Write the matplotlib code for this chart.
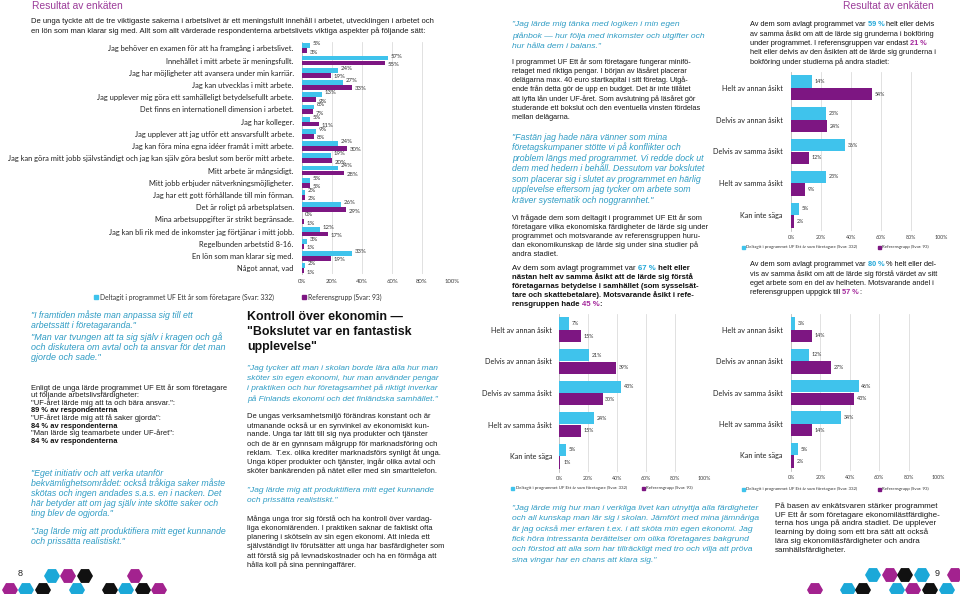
import matplotlib
matplotlib.use("Agg")
import matplotlib.pyplot as plt
from matplotlib.patches import RegularPolygon, Rectangle
import numpy as np

TEXT_FONT = "Liberation Sans"
CHART_FONT = "Lato"
TEAL = "#2f9cc4"
TEAL_NUM = "#1fa6d8"
PURPLE_NUM = "#a3279b"
HEAD = "#9b3c99"
CYAN_BAR = "#3fc3ec"
PURPLE_BAR = "#7d1682"
HEX_CYAN = "#1ba8d8"
HEX_PURPLE = "#a3228f"
HEX_BLACK = "#111111"

# --- data: main chart (important aspects of working life) ---
main_labels = [
    "Jag behöver en examen för att ha framgång i arbetslivet.",
    "Innehållet i mitt arbete är meningsfullt.",
    "Jag har möjligheter att avansera under min karriär.",
    "Jag kan utvecklas i mitt arbete.",
    "Jag upplever mig göra ett samhälleligt betydelsefullt arbete.",
    "Det finns en internationell dimension i arbetet.",
    "Jag har kolleger.",
    "Jag upplever att jag utför ett ansvarsfullt arbete.",
    "Jag kan föra mina egna idéer framåt i mitt arbete.",
    "Jag kan göra mitt jobb självständigt och jag kan själv göra beslut som berör mitt arbete.",
    "Mitt arbete är mångsidigt.",
    "Mitt jobb erbjuder nätverkningsmöjligheter.",
    "Jag har ett gott förhållande till min förman.",
    "Det är roligt på arbetsplatsen.",
    "Mina arbetsuppgifter är strikt begränsade.",
    "Jag kan bli rik med de inkomster jag förtjänar i mitt jobb.",
    "Regelbunden arbetstid 8-16.",
    "En lön som man klarar sig med.",
    "Något annat, vad",
]
main_uf = [5, 57, 24, 27, 13, 8, 5, 9, 24, 19, 24, 5, 2, 26, 0, 12, 3, 33, 2]
main_ref = [3, 55, 19, 33, 9, 7, 11, 8, 30, 20, 28, 5, 2, 29, 1, 17, 1, 19, 1]

# --- data: the three small opinion charts ---
opinion_labels = ["Helt av annan åsikt", "Delvis av annan åsikt", "Delvis av samma åsikt",
                  "Helt av samma åsikt", "Kan inte säga"]
bok_uf = [14, 23, 36, 23, 5]
bok_ref = [54, 24, 12, 9, 2]
ftg_uf = [7, 21, 43, 24, 5]
ftg_ref = [15, 39, 30, 15, 1]
arb_uf = [3, 12, 46, 34, 5]
arb_ref = [14, 27, 43, 14, 2]

ticks = [0, 20, 40, 60, 80, 100]
tick_labels = ["0%", "20%", "40%", "60%", "80%", "100%"]
legend_uf = "Deltagit i programmet UF Ett år som företagare (Svar: 332)"
legend_ref = "Referensgrupp (Svar: 93)"

W, H = 960, 594
fig = plt.figure(figsize=(W / 100, H / 100), dpi=100)
bg = fig.add_axes([0, 0, 1, 1])
bg.set_xlim(0, W)
bg.set_ylim(H, 0)
bg.axis("off")
renderer = fig.canvas.get_renderer()


def text_width(s, size, weight="normal", style="normal", family=TEXT_FONT):
    a = bg.text(0, 0, s + "|", fontsize=size, weight=weight, style=style, family=family)
    b = bg.text(0, 0, "|", fontsize=size, weight=weight, style=style, family=family)
    w = a.get_window_extent(renderer).width - b.get_window_extent(renderer).width
    a.remove()
    b.remove()
    return w


def rich_line(x, y, parts, size, style="normal"):
    for txt, color, weight in parts:
        bg.text(x, y, txt, fontsize=size, color=color, weight=weight, style=style,
                family=TEXT_FONT, va="center", ha="left")
        x += text_width(txt, size, weight, style)


def para(x, y0, step, lines, size, color="#1a1a1a", style="normal", weight="normal"):
    for i, line in enumerate(lines):
        if isinstance(line, list):
            rich_line(x, y0 + i * step, line, size, style)
        else:
            bg.text(x, y0 + i * step, line, fontsize=size, color=color, style=style,
                    weight=weight, family=TEXT_FONT, va="center", ha="left")


def bar_chart(x0, x1, y_top, y_bot, labels, uf, ref, label_size, val_size, tick_size,
              label_pad, val_dy):
    ax = fig.add_axes([x0 / W, 1 - y_bot / H, (x1 - x0) / W, (y_bot - y_top) / H])
    n = len(labels)
    pos = np.arange(n)
    ax.barh(pos - 0.2, uf, height=0.39, color=CYAN_BAR, zorder=3)
    ax.barh(pos + 0.2, ref, height=0.39, color=PURPLE_BAR, zorder=3)
    ax.set_xlim(0, 100)
    ax.set_ylim(n - 0.5, -0.5)
    ax.set_yticks(pos)
    ax.set_yticklabels(labels, fontsize=label_size, family=CHART_FONT, color="#222222")
    ax.set_xticks(ticks)
    ax.set_xticklabels(tick_labels, fontsize=tick_size, family=CHART_FONT, color="#404040")
    ax.tick_params(axis="y", length=0, pad=label_pad)
    ax.tick_params(axis="x", length=0, pad=3)
    ax.xaxis.grid(True, color="#dcdcdc", lw=0.6)
    ax.set_axisbelow(True)
    for s in ["top", "right", "bottom"]:
        ax.spines[s].set_visible(False)
    ax.spines["left"].set_color("#bfbfbf")
    ax.spines["left"].set_linewidth(0.6)
    ax.patch.set_alpha(0)
    for i in range(n):
        ax.annotate(f"{uf[i]}%", (uf[i], i - 0.2), xytext=(2, val_dy[0]),
                    textcoords="offset points", fontsize=val_size, family=CHART_FONT,
                    color="#333333", va="center", ha="left")
        ax.annotate(f"{ref[i]}%", (ref[i], i + 0.2), xytext=(2, val_dy[1]),
                    textcoords="offset points", fontsize=val_size, family=CHART_FONT,
                    color="#333333", va="center", ha="left")
    return ax


def legend(x_uf, x_ref, y, size, sq):
    for xx, col, lab in [(x_uf, CYAN_BAR, legend_uf), (x_ref, PURPLE_BAR, legend_ref)]:
        bg.add_patch(Rectangle((xx, y - sq / 2), sq, sq, color=col))
        bg.text(xx + sq + 1.5, y, lab, fontsize=size, family=CHART_FONT, color="#333333",
                va="center", ha="left")


# headers
bg.text(32, 6, "Resultat av enkäten", fontsize=7.4, color=HEAD, family=TEXT_FONT, va="center")
bg.text(843, 6, "Resultat av enkäten", fontsize=7.4, color=HEAD, family=TEXT_FONT, va="center")

para(31, 21, 10.5, [
    "De unga tyckte att de tre viktigaste sakerna i arbetslivet är ett meningsfullt innehåll i arbetet, utvecklingen i arbetet och",
    "en lön som man klarar sig med. Allt som allt värderade respondenterna arbetslivets viktiga aspekter på följande sätt:",
], 5.5)

# main chart
bar_chart(302, 452, 42.2, 274.4, main_labels, main_uf, main_ref, 5.4, 4.3, 4.3, 6, (1.5, -1))
legend(94, 302, 297, 4.9, 4)

# left column texts
QS = 6.3
para(31, 315, 10.5, ['"I framtiden måste man anpassa sig till ett',
                     'arbetssätt i företagaranda."'], QS, TEAL, "italic")
para(31, 337, 10.5, ['"Man var tvungen att ta sig själv i kragen och gå',
                     'och diskutera om avtal och ta ansvar för det man',
                     'gjorde och sade."'], 6.5, TEAL, "italic")
B = "#111111"
para(31, 388, 7.6, [
    "Enligt de unga lärde programmet UF Ett år som företagare",
    "ut följande arbetslivsfärdigheter:",
    '"UF-året lärde mig att ta och bära ansvar.":',
    [("89 % av respondenterna", B, "bold")],
    '"UF-året lärde mig att få saker gjorda":',
    [("84 % av respondenterna", B, "bold")],
    '"Man lärde sig teamarbete under UF-året":',
    [("84 % av respondenterna", B, "bold")],
], 5.4)
para(31, 473, 10.2, ['"Eget initiativ och att verka utanför',
                     'bekvämlighetsområdet: också tråkiga saker måste',
                     'skötas och ingen andades s.a.s. en i nacken. Det',
                     'här betyder att om jag själv inte skötte saker och',
                     'ting blev de ogjorda."'], QS, TEAL, "italic")
para(31, 531, 10.2, ['"Jag lärde mig att produktifiera mitt eget kunnande',
                     'och prissätta realistiskt."'], QS, TEAL, "italic")

# middle column
para(247, 317, 15, ["Kontroll över ekonomin —", '"Bokslutet var en fantastisk', 'upplevelse"'],
     8.9, "#111111", weight="bold")
para(247, 368, 10.3, ['"Jag tycker att man i skolan borde lära alla hur man',
                      'sköter sin egen ekonomi, hur man använder pengar',
                      'i praktiken och hur företagsamhet på riktigt inverkar',
                      'på Finlands ekonomi och det finländska samhället."'], 6.05, TEAL, "italic")
para(247, 417, 9.0, [
    "De ungas verksamhetsmiljö förändras konstant och är",
    "utmanande också ur en synvinkel av ekonomiskt kun-",
    "nande. Unga tar lätt till sig nya produkter och tjänster",
    "och de är en gynnsam målgrupp för marknadsföring och",
    "reklam.  T.ex. olika krediter marknadsförs synligt åt unga.",
    "Unga köper produkter och tjänster, ingår olika avtal och",
    "sköter bankärenden på nätet eller med sin smarttelefon.",
], 5.5)
para(247, 490, 10.3, ['"Jag lärde mig att produktifiera mitt eget kunnande',
                      'och prissätta realistiskt."'], 6.05, TEAL, "italic")
para(247, 519, 9.2, [
    "Många unga tror sig förstå och ha kontroll över vardag-",
    "liga ekonomiärenden. I praktiken saknar de faktiskt ofta",
    "planering i skötseln av sin egen ekonomi. Att inleda ett",
    "självständigt liv förutsätter att unga har basfärdigheter som",
    "att förstå sig på levnadskostnader och ha en förmåga att",
    "hålla koll på sina penningaffärer.",
], 5.4)

# right-middle column
para(512, 25, 10.8, ['"Jag lärde mig tänka med logiken i min egen',
                     'plånbok — hur följa med inkomster och utgifter och',
                     'hur hålla dem i balans."'], 6.1, TEAL, "italic")
para(512, 62, 9.2, [
    "I programmet UF Ett år som företagare fungerar minifö-",
    "retaget med riktiga pengar. I början av läsåret placerar",
    "delägarna max. 40 euro startkapital i sitt företag. Utgå-",
    "ende från detta gör de upp en budget. Det är inte tillåtet",
    "att lyfta lån under UF-året. Som avslutning på läsåret gör",
    "studerande ett bokslut och den eventuella vinsten fördelas",
    "mellan delägarna.",
], 5.3)
para(512, 137, 10.6, ['"Fastän jag hade nära vänner som mina',
                      'företagskumpaner stötte vi på konflikter och',
                      'problem längs med programmet. Vi redde dock ut',
                      'dem med hedern i behåll. Dessutom var bokslutet',
                      'som placerar sig i slutet av programmet en härlig',
                      'upplevelse eftersom jag tycker om arbete som',
                      'kräver systematik och noggrannhet."'], 6.3, TEAL, "italic")
para(512, 218, 9.1, [
    "Vi frågade dem som deltagit i programmet UF Ett år som",
    "företagare vilka ekonomiska färdigheter de lärde sig under",
    "programmet och motsvarande av referensgruppen huru-",
    "dan ekonomikunskap de lärde sig under sina studier på",
    "andra stadiet.",
], 5.4)
para(512, 268, 9.0, [
    [("Av dem som avlagt programmet var ", B, "normal"), ("67 %", TEAL_NUM, "bold"),
     (" helt eller", B, "bold")],
    [("nästan helt av samma åsikt att de lärde sig förstå", B, "bold")],
    [("företagarnas betydelse i samhället (som sysselsät-", B, "bold")],
    [("tare och skattebetalare). Motsvarande åsikt i refe-", B, "bold")],
    [("rensgruppen hade ", B, "bold"), ("45 %", PURPLE_NUM, "bold"), (":", B, "bold")],
], 5.6)

# right column
para(750, 25, 9.2, [
    [("Av dem som avlagt programmet var ", B, "normal"), ("59 %", TEAL_NUM, "bold"),
     (" helt eller delvis", B, "normal")],
    "av samma åsikt om att de lärde sig grunderna i bokföring",
    [("under programmet. I referensgruppen var endast ", B, "normal"),
     ("21 %", PURPLE_NUM, "bold")],
    "helt eller delvis av den åsikten att de lärde sig grunderna i",
    "bokföring under studierna på andra stadiet:",
], 5.3)
para(750, 265, 9.2, [
    [("Av dem som avlagt programmet var ", B, "normal"), ("80 %", TEAL_NUM, "bold"),
     (" % helt eller del-", B, "normal")],
    "vis av samma åsikt om att de lärde sig förstå värdet av sitt",
    "eget arbete som en del av helheten. Motsvarande andel i",
    [("referensgruppen uppgick till ", B, "normal"), ("57 %", PURPLE_NUM, "bold"),
     (":", B, "normal")],
], 5.3)
para(775, 506, 8.8, [
    "På basen av enkätsvaren stärker programmet",
    "UF Ett år som företagare ekonomilästfärdighe-",
    "terna hos unga på andra stadiet. De upplever",
    "learning by doing som ett bra sätt att också",
    "lära sig ekonomiläsfärdigheter och andra",
    "samhällsfärdigheter.",
], 5.8)

# small charts
bar_chart(791, 941, 72, 231, opinion_labels, bok_uf, bok_ref, 5.2, 3.8, 3.8, 6, (0, 0))
legend(742, 878, 247, 3.2, 3)
bar_chart(559, 704, 314, 472, opinion_labels, ftg_uf, ftg_ref, 5.2, 3.8, 3.8, 5, (0, 0))
legend(511, 642, 488, 3.2, 3)
bar_chart(791, 938, 314, 471, opinion_labels, arb_uf, arb_ref, 5.2, 3.8, 3.8, 6, (0, 0))
legend(742, 878, 489, 3.2, 3)

# bottom quote
para(512, 508, 10.4, [
    '"Jag lärde mig hur man i verkliga livet kan utnyttja alla färdigheter',
    'och all kunskap man lär sig i skolan. Jämfört med mina jämnåriga',
    'är jag också mer erfaren t.ex. i att sköta min egen ekonomi. Jag',
    'fick höra intressanta berättelser om olika företagares bakgrund',
    'och förstod att alla som har tillräckligt med tro och vilja att pröva',
    'sina vingar har en chans att klara sig."',
], 6.1, TEAL, "italic")

# page numbers and hexagon decoration
bg.text(20, 574, "8", fontsize=6.5, family=TEXT_FONT, color="#222222", va="center", ha="center")
bg.text(937, 573, "9", fontsize=6.5, family=TEXT_FONT, color="#222222", va="center", ha="center")
hexes = [
    (52, 576, HEX_CYAN), (68, 576, HEX_PURPLE), (85, 576, HEX_BLACK), (135, 576, HEX_PURPLE),
    (10, 590, HEX_PURPLE), (26, 590, HEX_CYAN), (43, 590, HEX_BLACK), (77, 590, HEX_CYAN),
    (110, 590, HEX_BLACK), (126, 590, HEX_CYAN), (143, 590, HEX_BLACK), (159, 590, HEX_PURPLE),
    (873, 575, HEX_CYAN), (890, 575, HEX_PURPLE), (905, 575, HEX_BLACK), (922, 575, HEX_CYAN),
    (955, 575, HEX_PURPLE),
    (815, 590, HEX_PURPLE), (848, 590, HEX_CYAN), (863, 590, HEX_BLACK), (897, 590, HEX_CYAN),
    (913, 590, HEX_PURPLE), (930, 590, HEX_BLACK), (947, 590, HEX_CYAN),
]
for hx, hy, hc in hexes:
    bg.add_patch(RegularPolygon((hx, hy), 6, radius=8, orientation=np.pi / 6, color=hc, lw=0))

fig.savefig("out.png", dpi=100)
